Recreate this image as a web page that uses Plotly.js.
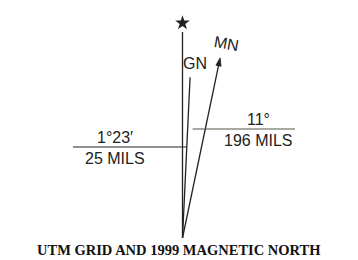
<!DOCTYPE html>
<html>
<head>
<meta charset="utf-8">
<script src="https://cdn.plot.ly/plotly-3.0.1.min.js"></script>
<style>html,body{margin:0;padding:0;background:#fff;}#chart{width:358px;height:260px;}</style>
</head>
<body>
<div id="chart"></div>
<script>
// Declination diagram data
const northNames = ['TN', 'GN', 'MN'];
const northAngles = [0, 2.7, 11.8];        // degrees east of the vertical (schematic)
const northLengths = [206, 161, 184];      // drawn length of each line
const gnLabel = 'GN';
const mnLabel = 'MN';
const gmAngleLabels = ['1°23′', '25 MILS'];
const gmMagLabels = ['11°', '196 MILS'];
const chartTitle = 'UTM GRID AND 1999 MAGNETIC NORTH';

const vertex = [182.5, 238];
const ink = '#222222';

function rad(i) { return northAngles[i] * Math.PI / 180; }
function endPoint(i, len, side) {
  const a = rad(i);
  const L = len === undefined ? northLengths[i] : len;
  const s = side || 0;
  return [vertex[0] + L * Math.sin(a) + s * Math.cos(a), vertex[1] - L * Math.cos(a) + s * Math.sin(a)];
}
function xAtY(i, y) {
  return vertex[0] + (vertex[1] - y) * Math.tan(rad(i));
}

const traces = [];
northNames.forEach((n, i) => {
  const e = endPoint(i, i === 2 ? northLengths[i] - 4 : undefined);
  traces.push({
    x: [vertex[0], e[0]], y: [vertex[1], e[1]], mode: 'lines',
    line: {color: ink, width: 1.3}, hoverinfo: 'skip', showlegend: false
  });
});
// star above true north
const tn = endPoint(0);
traces.push({x: [tn[0]], y: [tn[1] - 9], mode: 'markers',
  marker: {symbol: 'star', size: 11, color: ink}, showlegend: false, hoverinfo: 'skip'});
// narrow arrow head of magnetic north
const tip = endPoint(2);
const bl = endPoint(2, northLengths[2] - 8, -2.6);
const br = endPoint(2, northLengths[2] - 8, 2.6);
traces.push({x: [tip[0], bl[0], br[0], tip[0]], y: [tip[1], bl[1], br[1], tip[1]],
  mode: 'lines', fill: 'toself', fillcolor: ink, line: {color: ink, width: 0.8},
  showlegend: false, hoverinfo: 'skip'});

// horizontal leader lines
const yLeft = 147, yRight = 129;
traces.push({x: [73, xAtY(1, yLeft)], y: [yLeft, yLeft], mode: 'lines',
  line: {color: ink, width: 1.2}, showlegend: false, hoverinfo: 'skip'});
traces.push({x: [xAtY(1, yRight) + 5, 295], y: [yRight, yRight], mode: 'lines',
  line: {color: '#55554a', width: 1.2}, showlegend: false, hoverinfo: 'skip'});

const sans = {family: 'Liberation Sans, Arial, sans-serif', size: 16, color: ink};
const annotations = [
  {x: 195, y: 63, text: gnLabel},
  {x: 226, y: 43, text: mnLabel, textangle: 10},
  {x: 115, y: 137, text: gmAngleLabels[0]},
  {x: 115, y: 158, text: gmAngleLabels[1]},
  {x: 258, y: 119, text: gmMagLabels[0]},
  {x: 258, y: 140, text: gmMagLabels[1]},
].map(a => Object.assign({xref: 'x', yref: 'y', showarrow: false, font: sans,
  xanchor: 'center', yanchor: 'middle'}, a));
annotations.push({x: 179, y: 250, xref: 'x', yref: 'y', showarrow: false, text: '<b>' + chartTitle + '</b>',
  font: {family: 'Liberation Serif, Times New Roman, serif', size: 14.5, color: '#111'},
  xanchor: 'center', yanchor: 'middle'});

const layout = {
  width: 358, height: 260,
  margin: {l: 0, r: 0, t: 0, b: 0},
  paper_bgcolor: '#fff', plot_bgcolor: '#fff',
  xaxis: {range: [0, 358], visible: false, fixedrange: true},
  yaxis: {range: [260, 0], visible: false, fixedrange: true},
  annotations: annotations,
  showlegend: false
};
Plotly.newPlot('chart', traces, layout, {staticPlot: true, displayModeBar: false});
</script>
</body>
</html>
